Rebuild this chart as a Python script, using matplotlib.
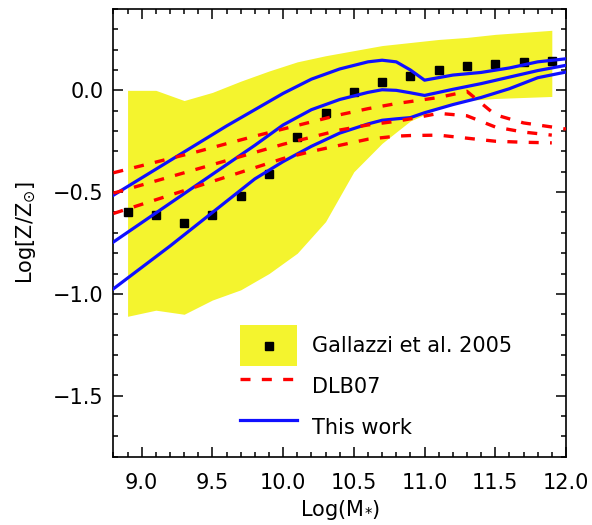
import numpy as np
import matplotlib
matplotlib.use('Agg')
import matplotlib.pyplot as plt
from matplotlib.patches import Patch, Rectangle
from matplotlib.lines import Line2D
from matplotlib.ticker import MultipleLocator

# Gallazzi et al. 2005 (median + band)
gal_x = [8.9, 9.1, 9.3, 9.5, 9.7, 9.9, 10.1, 10.3, 10.5, 10.7, 10.9, 11.1, 11.3, 11.5, 11.7, 11.9]
gal_med = [-0.60, -0.61, -0.65, -0.61, -0.52, -0.41, -0.23, -0.11, -0.01, 0.04, 0.07, 0.10, 0.12, 0.13, 0.14, 0.145]
gal_hi = [0.0, 0.0, -0.05, -0.01, 0.045, 0.095, 0.14, 0.17, 0.195, 0.22, 0.235, 0.25, 0.26, 0.275, 0.285, 0.295]
gal_lo = [-1.11, -1.08, -1.10, -1.03, -0.98, -0.90, -0.80, -0.645, -0.40, -0.26, -0.15, -0.09, -0.05, -0.04, -0.035, -0.03]

# DLB07 (three percentiles)
dlb_x = [8.8, 9.0, 9.2, 9.4, 9.6, 9.8, 10.0, 10.2, 10.4, 10.6, 10.8, 10.9, 11.1, 11.3, 11.5, 11.7, 11.9, 12.0]
dlb_hi = [-0.405, -0.37, -0.335, -0.30, -0.262, -0.225, -0.19, -0.155, -0.12, -0.09, -0.065, -0.055, -0.035, -0.005, -0.12, -0.16, -0.18, -0.19]
dlb_mid = [-0.505, -0.465, -0.425, -0.385, -0.345, -0.305, -0.265, -0.23, -0.195, -0.17, -0.152, -0.14, -0.113, -0.125, -0.18, -0.205, -0.22, np.nan]
dlb_lo = [-0.605, -0.56, -0.515, -0.47, -0.425, -0.38, -0.335, -0.30, -0.27, -0.24, -0.225, -0.222, -0.22, -0.235, -0.25, -0.255, -0.258, np.nan]

# This work (three percentiles)
tw_x = [8.8, 9.0, 9.2, 9.4, 9.6, 9.8, 10.0, 10.2, 10.4, 10.6, 10.7, 10.8, 10.9, 11.0, 11.2, 11.4, 11.6, 11.8, 12.0]
tw_hi = [-0.515, -0.43, -0.345, -0.26, -0.175, -0.095, -0.015, 0.055, 0.105, 0.14, 0.148, 0.14, 0.10, 0.05, 0.075, 0.088, 0.11, 0.14, 0.155]
tw_mid = [-0.745, -0.65, -0.555, -0.46, -0.365, -0.27, -0.17, -0.095, -0.045, -0.01, 0.003, 0.0, -0.012, -0.025, 0.005, 0.033, 0.065, 0.097, 0.123]
tw_lo = [-0.975, -0.87, -0.765, -0.655, -0.545, -0.435, -0.35, -0.275, -0.21, -0.165, -0.147, -0.14, -0.134, -0.11, -0.07, -0.035, 0.008, 0.062, 0.09]

xticks = [9.0, 9.5, 10.0, 10.5, 11.0, 11.5, 12.0]
yticks = [-1.5, -1.0, -0.5, 0.0]

yellow = '#f4f42e'

plt.rcParams['font.family'] = ['DejaVu Sans']
plt.rcParams['mathtext.fontset'] = 'dejavusans'


# legend key: yellow box with the black square in its middle
class BandHandler:
    def legend_artist(self, legend, orig_handle, fontsize, handlebox):
        x0, y0 = handlebox.xdescent, handlebox.ydescent
        w, h = handlebox.width, handlebox.height
        tr = handlebox.get_transform()
        box = Rectangle((-x0, -y0), w, h, facecolor=yellow, edgecolor='none', transform=tr)
        dot = Line2D([w / 2 - x0], [h / 2 - y0], ls='none', marker='s', ms=6,
                     color='black', transform=tr)
        handlebox.add_artist(box)
        handlebox.add_artist(dot)
        return box


fig = plt.figure(figsize=(5.92, 5.25), dpi=100)
ax = fig.add_axes([0.1916, 0.130, 0.7644, 0.853])

ax.fill_between(gal_x, gal_lo, gal_hi, color=yellow, lw=0, zorder=1)
ax.plot(gal_x, gal_med, ls='none', marker='s', ms=6, color='black', zorder=2)

for yy in [tw_hi, tw_mid, tw_lo]:
    ax.plot(tw_x, yy, color='#1010ff', lw=2.3, zorder=3)
for yy in [dlb_hi, dlb_mid, dlb_lo]:
    ax.plot(dlb_x, yy, color='#ff0000', lw=2.4, dashes=(3, 3.4), zorder=4)

ax.set_xlim(8.8, 12.0)
ax.set_ylim(-1.8, 0.4)
ax.set_xticks(xticks)
ax.set_xticklabels([f'{v:.1f}' for v in xticks])
ax.set_yticks(yticks)
ax.set_yticklabels([f'{v:.1f}'.replace('-', '\u2212') for v in yticks])
ax.xaxis.set_minor_locator(MultipleLocator(0.1))
ax.yaxis.set_minor_locator(MultipleLocator(0.1))
ax.tick_params(which='both', direction='in', top=True, right=True, labelsize=15, width=1.1)
ax.tick_params(which='major', length=7)
ax.tick_params(which='minor', length=3.5)
ax.tick_params(axis='x', pad=12)
ax.tick_params(axis='y', pad=7)
for s in ax.spines.values():
    s.set_linewidth(1.2)

ax.set_xlabel('Log(M$_{*}$)', fontsize=15, labelpad=3)
ax.set_ylabel('Log[Z/Z$_{\\odot}$]', fontsize=15, labelpad=11)

band_key = Patch(facecolor=yellow)
handles = [
    band_key,
    Line2D([], [], color='#ff0000', lw=2.4, dashes=(3, 3.4)),
    Line2D([], [], color='#1010ff', lw=2.3),
]
labels = ['Gallazzi et al. 2005', 'DLB07', 'This work']
ax.legend(handles, labels, loc='upper left', bbox_to_anchor=(0.2797, 0.294),
          frameon=False, fontsize=15, borderpad=0, borderaxespad=0,
          handlelength=2.74, handleheight=2.65, labelspacing=0.0,
          handletextpad=0.72, handler_map={band_key: BandHandler()})

plt.savefig('out.png', dpi=100)
